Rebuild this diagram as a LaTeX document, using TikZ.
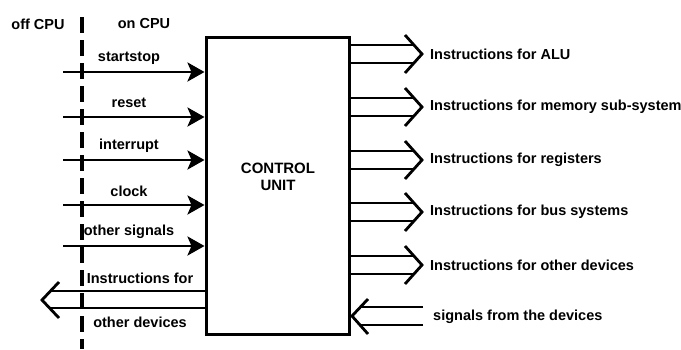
\documentclass[tikz,border=0pt]{standalone}
\usepackage{fontspec}
\setmainfont{Liberation Sans}
\usetikzlibrary{arrows.meta,calc}
\begin{document}
\begin{tikzpicture}[x=1pt,y=-1pt,
  lbl/.style={font=\bfseries\fontsize{14.5}{15}\selectfont, inner sep=0pt},
  wire/.style={line width=2.8pt},
  inarrow/.style={wire, -{Stealth[length=17pt,width=19pt,inset=4pt]}},
  chevron/.style={line width=2.8pt, line join=miter},
  cpuline/.style={line width=3.2pt, dash pattern=on 16pt off 7pt}]
\useasboundingbox (0,0) rectangle (681,349);

% control unit block
\node[draw, line width=3pt, minimum width=143pt, minimum height=297pt, inner sep=0pt] (cu) at (277.5,185.5) {};
\node[lbl, align=center, font=\bfseries\fontsize{15}{17}\selectfont] (cutext) at (278,177) {CONTROL\\UNIT};

% CPU boundary
\coordinate (btop) at (82,17);
\coordinate (bbot) at (82,349);
\draw[cpuline] (btop) -- (bbot);
\node[lbl] (offcpu) at (38,24) {off CPU};
\node[lbl] (oncpu) at (144,24) {on CPU};

% incoming control signals
\foreach \y/\t [count=\i] in {72/startstop, 117/reset, 160/interrupt, 205/clock, 246/other signals} {
  \coordinate (in\i) at (63,\y);
  \draw[inarrow] (in\i) -- (in\i -| cu.west);
  \node[lbl] (inl\i) at (129,\y-14) {\t};
}

% instructions leaving the CPU
\coordinate (otip) at (42,300);
\draw[wire] (cu.west |- 0,291) -- ($(otip)+(9,-9)$);
\draw[wire] (cu.west |- 0,308) -- ($(otip)+(9,8)$);
\draw[chevron] ($(otip)+(17,-18)$) -- (otip) -- ($(otip)+(17,18)$);
\node[lbl] (ol1) at (140,278) {Instructions for};
\node[lbl] (ol2) at (140,322) {other devices};

% outgoing instruction buses
\foreach \y/\t [count=\i] in {54/Instructions for ALU, 107/Instructions for memory sub-system, 160/Instructions for registers, 212/Instructions for bus systems, 265/Instructions for other devices} {
  \coordinate (out\i) at (422,\y);
  \draw[wire] (cu.east |- out\i) ++(0,-9) -- ($(out\i)+(-8,-9)$);
  \draw[wire] (cu.east |- out\i) ++(0,9) -- ($(out\i)+(-8,9)$);
  \draw[chevron] ($(out\i)+(-17,-19)$) -- (out\i) -- ($(out\i)+(-17,19)$);
  \node[lbl, anchor=west] (outl\i) at (430,\y) {\t};
}

% signals returning from the devices
\coordinate (rtip) at (352,316);
\coordinate (rend) at (423,316);
\draw[wire] ($(rend)+(0,-9)$) -- ($(rtip)+(9,-9)$);
\draw[wire] ($(rend)+(0,9)$) -- ($(rtip)+(9,9)$);
\draw[chevron] ($(rtip)+(16,-17)$) -- (rtip) -- ($(rtip)+(16,18)$);
\node[lbl, anchor=west] (retl) at (433,317) {signals from the devices};
\end{tikzpicture}
\end{document}
